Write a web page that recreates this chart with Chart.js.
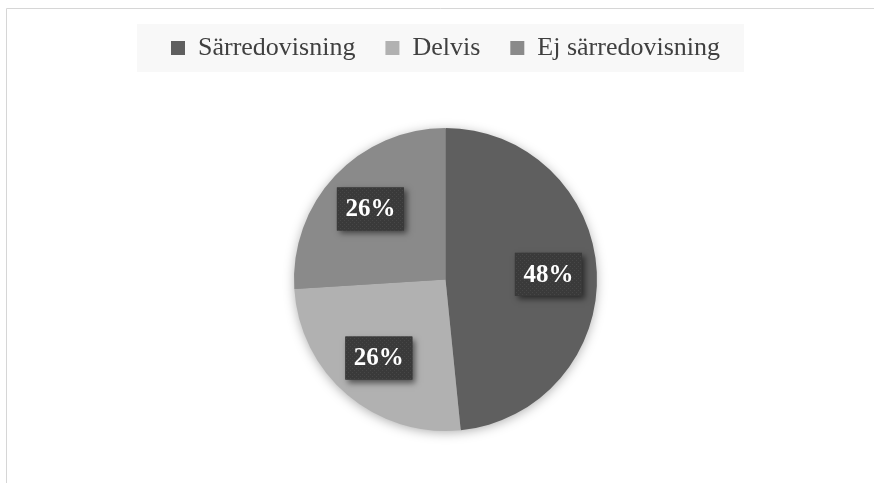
<!DOCTYPE html>
<html>
<head>
<meta charset="utf-8">
<script src="https://cdn.jsdelivr.net/npm/chart.js@4/dist/chart.umd.min.js"></script>
<style>
  html, body { margin: 0; padding: 0; background: #fff; }
</style>
</head>
<body>
<canvas id="myChart" width="874" height="483"></canvas>
<script>
// data
var categories = ['Särredovisning', 'Delvis', 'Ej särredovisning'];
var shares = [48.4, 25.6, 26.0];
var sliceColors = ['#5f5f5f', '#b1b1b1', '#8a8a8a'];

var serif = "'Liberation Serif', 'DejaVu Serif', serif";
var labelRadius = 0.68;

function total() {
  return shares.reduce(function(a, b) { return a + b; }, 0);
}

// small dotted fill like the label boxes in the picture
function dotPattern(ctx) {
  var pc = document.createElement('canvas');
  pc.width = 4; pc.height = 4;
  var p = pc.getContext('2d');
  p.fillStyle = '#3a3a3a';
  p.fillRect(0, 0, 4, 4);
  p.fillStyle = '#474747';
  p.fillRect(0, 0, 1, 1);
  p.fillRect(2, 2, 1, 1);
  return ctx.createPattern(pc, 'repeat');
}

var frameAndLegendBg = {
  id: 'frameAndLegendBg',
  beforeInit: function(chart) {
    var fit = chart.legend.fit;
    chart.legend.fit = function() {
      fit.bind(chart.legend)();
      this.height = 75;
    };
  },
  beforeDraw: function(chart) {
    var c = chart.ctx;
    c.save();
    c.fillStyle = '#ffffff';
    c.fillRect(0, 0, chart.width, chart.height);
    c.strokeStyle = '#d6d6d6';
    c.lineWidth = 1;
    c.beginPath();
    c.moveTo(6.5, chart.height);
    c.lineTo(6.5, 8.5);
    c.lineTo(chart.width, 8.5);
    c.stroke();

    var boxes = chart.legend.legendHitBoxes;
    if (boxes && boxes.length) {
      var first = boxes[0], last = boxes[boxes.length - 1];
      var left = first.left - 34;
      var right = last.left + last.width + 24;
      c.fillStyle = '#f8f8f8';
      c.fillRect(left, first.top - 11, right - left, 48);
    }
    c.restore();
  },
  beforeDatasetsDraw: function(chart) {
    var arc = chart.getDatasetMeta(0).data[0];
    if (!arc) return;
    var c = chart.ctx;
    c.save();
    c.shadowColor = 'rgba(0,0,0,0.35)';
    c.shadowBlur = 12;
    c.shadowOffsetY = 2;
    c.fillStyle = '#8a8a8a';
    c.beginPath();
    c.arc(arc.x, arc.y, arc.outerRadius - 1, 0, Math.PI * 2);
    c.fill();
    c.restore();
  }
};

var pctLabels = {
  id: 'pctLabels',
  afterDatasetsDraw: function(chart) {
    var c = chart.ctx;
    var meta = chart.getDatasetMeta(0);
    var sum = total();
    var fill = dotPattern(c);
    c.save();
    c.font = 'bold 25px ' + serif;
    c.textAlign = 'center';
    c.textBaseline = 'middle';
    meta.data.forEach(function(arc, i) {
      var p = arc.getProps(['x', 'y', 'startAngle', 'endAngle', 'outerRadius'], true);
      var mid = (p.startAngle + p.endAngle) / 2;
      var r = p.outerRadius * labelRadius;
      var x = p.x + Math.cos(mid) * r;
      var y = p.y + Math.sin(mid) * r;
      var text = Math.round(shares[i] / sum * 100) + '%';
      var w = c.measureText(text).width + 17;
      var h = 43;

      c.save();
      c.shadowColor = 'rgba(0,0,0,0.55)';
      c.shadowBlur = 6;
      c.shadowOffsetX = 3;
      c.shadowOffsetY = 3;
      c.fillStyle = '#3a3a3a';
      c.fillRect(x - w / 2, y - h / 2, w, h);
      c.restore();

      c.fillStyle = fill;
      c.fillRect(x - w / 2, y - h / 2, w, h);
      c.fillStyle = '#ffffff';
      c.fillText(text, x, y + 1);
    });
    c.restore();
  }
};

var ctx = document.getElementById('myChart').getContext('2d');

var myChart = new Chart(ctx, {
  type: 'pie',
  data: {
    labels: categories,
    datasets: [{
      data: shares,
      backgroundColor: sliceColors,
      borderWidth: 0
    }]
  },
  options: {
    responsive: false,
    animation: false,
    radius: 151.5,
    layout: {
      padding: { top: 5, left: 20, right: 3, bottom: 4 }
    },
    plugins: {
      legend: {
        position: 'top',
        labels: {
          boxWidth: 14,
          boxHeight: 14,
          padding: 30,
          color: '#404040',
          font: { family: serif, size: 26 }
        }
      },
      tooltip: { enabled: false }
    }
  },
  plugins: [frameAndLegendBg, pctLabels]
});
</script>
</body>
</html>
